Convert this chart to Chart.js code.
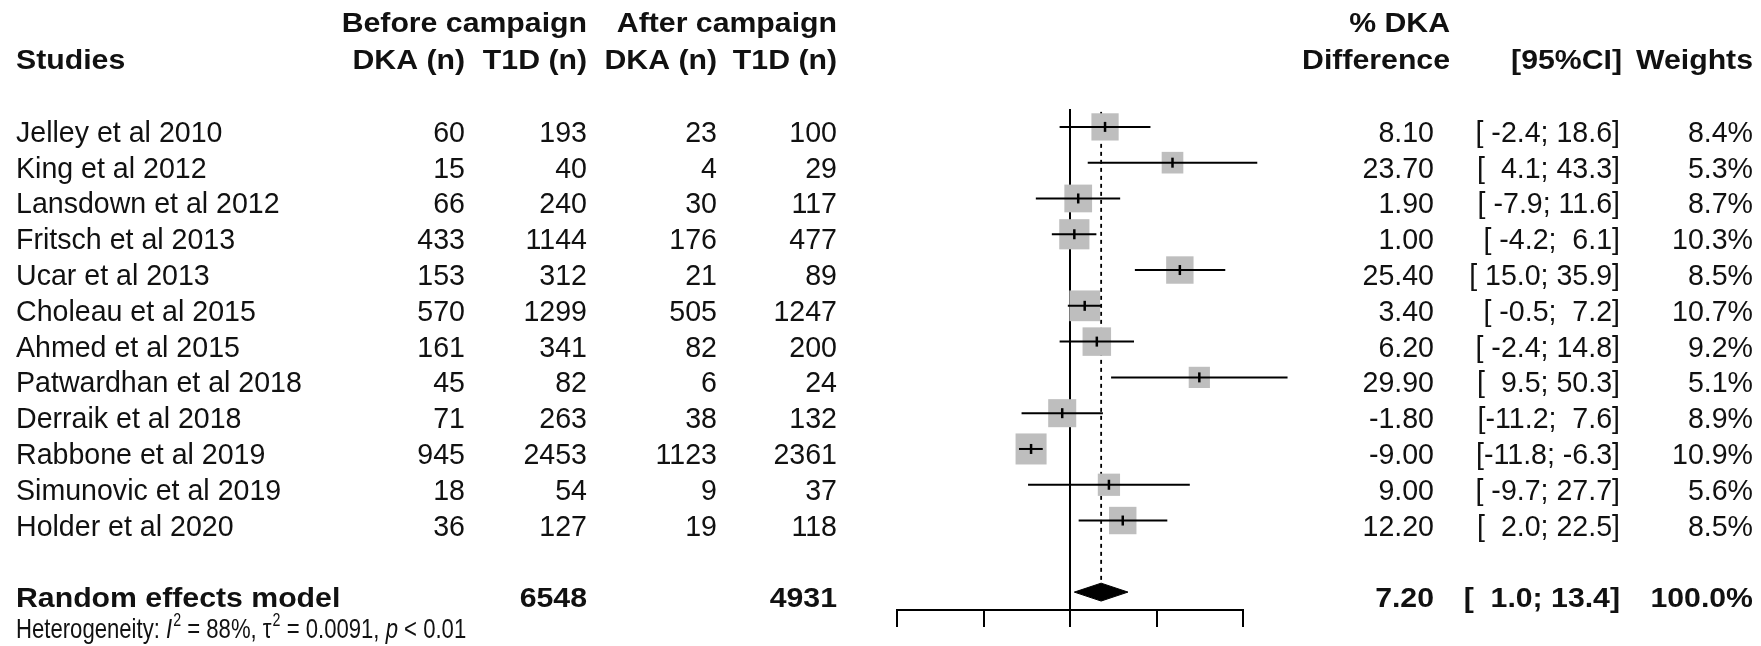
<!DOCTYPE html>
<html>
<head>
<meta charset="utf-8">
<script src="https://cdn.jsdelivr.net/npm/chart.js@4.4.1/dist/chart.umd.min.js"></script>
<style>
  html, body { margin: 0; padding: 0; background: #ffffff; }
  #wrap { width: 1761px; height: 646px; position: relative; }
</style>
</head>
<body>
<div id="wrap"><canvas id="forest" width="1761" height="646"></canvas></div>
<script>
// ---- data ----
const studies = [
  "Jelley et al 2010", "King et al 2012", "Lansdown et al 2012", "Fritsch et al 2013",
  "Ucar et al 2013", "Choleau et al 2015", "Ahmed et al 2015", "Patwardhan et al 2018",
  "Derraik et al 2018", "Rabbone et al 2019", "Simunovic et al 2019", "Holder et al 2020"
];
const dkaBefore = [60, 15, 66, 433, 153, 570, 161, 45, 71, 945, 18, 36];
const t1dBefore = [193, 40, 240, 1144, 312, 1299, 341, 82, 263, 2453, 54, 127];
const dkaAfter  = [23, 4, 30, 176, 21, 505, 82, 6, 38, 1123, 9, 19];
const t1dAfter  = [100, 29, 117, 477, 89, 1247, 200, 24, 132, 2361, 37, 118];
const diffPct   = [8.10, 23.70, 1.90, 1.00, 25.40, 3.40, 6.20, 29.90, -1.80, -9.00, 9.00, 12.20];
const ciLower   = [-2.4, 4.1, -7.9, -4.2, 15.0, -0.5, -2.4, 9.5, -11.2, -11.8, -9.7, 2.0];
const ciUpper   = [18.6, 43.3, 11.6, 6.1, 35.9, 7.2, 14.8, 50.3, 7.6, -6.3, 27.7, 22.5];
const weights   = [8.4, 5.3, 8.7, 10.3, 8.5, 10.7, 9.2, 5.1, 8.9, 10.9, 5.6, 8.5];

const pooledLabel = "Random effects model";
const pooledEstimate = 7.20;
const pooledLower = 1.0;
const pooledUpper = 13.4;
const pooledWeight = 100.0;
const totalT1dBefore = 6548;
const totalT1dAfter = 4931;
const heterogeneity = { i2: "88%", tau2: "0.0091", p: "< 0.01" };

const axisTicks = [-40, -20, 0, 20, 40];

// ---- layout ----
const pooledRow = studies.length + 1;
const rows = studies.map((_, i) => i);
const FONT = "Liberation Sans, Arial, sans-serif";
const REG_SIZE = 29, REG_SX = 0.985;
const BOLD_SIZE = 28, BOLD_SX = 1.08;
const HET_SIZE = 28, HET_SX = 0.79;
const TEXT_COLOR = "#111111";

const col = {
  study: 16, dkaB: 465, t1dB: 587, dkaA: 717, t1dA: 837,
  diffHead: 1450, diff: 1434, ci: 1620, ciHead: 1622, w: 1753
};

function squareRadius(w) {
  const side = 9.4 * Math.sqrt(w);
  return side / Math.SQRT2;   // 'rect' point style draws a side of radius*sqrt(2)
}

function padNum(v, width) {
  let s = v.toFixed(1);
  while (s.length < width) s = " " + s;
  return s;
}
function ciText(lo, hi) {
  return "[" + padNum(lo, 5) + ";" + padNum(hi, 5) + "]";
}

function text(ctx, str, x, y, align, bold, opts) {
  opts = opts || {};
  const size = opts.size || (bold ? BOLD_SIZE : REG_SIZE);
  const sx = opts.sx || (bold ? BOLD_SX : REG_SX);
  ctx.save();
  ctx.font = (opts.italic ? "italic " : "") + (bold ? "bold " : "") + size + "px " + FONT;
  ctx.fillStyle = TEXT_COLOR;
  ctx.textBaseline = "alphabetic";
  ctx.textAlign = align;
  ctx.translate(x, y);
  ctx.scale(sx, 1);
  ctx.fillText(str, 0, 0);
  const w = ctx.measureText(str).width * sx;
  ctx.restore();
  return w;
}

// table text around the plot
const tablePlugin = {
  id: "forestTable",
  afterDraw(chart) {
    const ctx = chart.ctx;
    const ys = chart.scales.y;
    const base = (r) => ys.getPixelForValue(r) + 15;
    const h1 = 32, h2 = 69;

    // headers
    text(ctx, "Before campaign", col.t1dB, h1, "right", true);
    text(ctx, "After campaign", col.t1dA, h1, "right", true);
    text(ctx, "Studies", col.study, h2, "left", true);
    text(ctx, "DKA (n)", col.dkaB, h2, "right", true);
    text(ctx, "T1D (n)", col.t1dB, h2, "right", true);
    text(ctx, "DKA (n)", col.dkaA, h2, "right", true);
    text(ctx, "T1D (n)", col.t1dA, h2, "right", true);
    text(ctx, "% DKA", col.diffHead, h1, "right", true);
    text(ctx, "Difference", col.diffHead, h2, "right", true);
    text(ctx, "[95%CI]", col.ciHead, h2, "right", true);
    text(ctx, "Weights", col.w, h2, "right", true);

    // study rows
    studies.forEach((name, i) => {
      const y = base(i);
      text(ctx, name, col.study, y, "left", false);
      text(ctx, String(dkaBefore[i]), col.dkaB, y, "right", false);
      text(ctx, String(t1dBefore[i]), col.t1dB, y, "right", false);
      text(ctx, String(dkaAfter[i]), col.dkaA, y, "right", false);
      text(ctx, String(t1dAfter[i]), col.t1dA, y, "right", false);
      text(ctx, diffPct[i].toFixed(2), col.diff, y, "right", false);
      text(ctx, ciText(ciLower[i], ciUpper[i]), col.ci, y, "right", false);
      text(ctx, weights[i].toFixed(1) + "%", col.w, y, "right", false);
    });

    // pooled row
    const yp = base(pooledRow);
    text(ctx, pooledLabel, col.study, yp, "left", true);
    text(ctx, String(totalT1dBefore), col.t1dB, yp, "right", true);
    text(ctx, String(totalT1dAfter), col.t1dA, yp, "right", true);
    text(ctx, pooledEstimate.toFixed(2), col.diff, yp, "right", true);
    text(ctx, ciText(pooledLower, pooledUpper), col.ci, yp, "right", true);
    text(ctx, pooledWeight.toFixed(1) + "%", col.w, yp, "right", true);

    // heterogeneity line
    const yh = 638;
    let x = col.study;
    const het = { size: HET_SIZE, sx: HET_SX };
    const hetIt = { size: HET_SIZE, sx: HET_SX, italic: true };
    const sup = { size: 18, sx: HET_SX };
    x += text(ctx, "Heterogeneity: ", x, yh, "left", false, het);
    x += text(ctx, "I", x, yh, "left", false, hetIt);
    x += text(ctx, "2", x + 1, yh - 12, "left", false, sup) + 1;
    x += text(ctx, " = " + heterogeneity.i2 + ", \u03c4", x, yh, "left", false, het);
    x += text(ctx, "2", x + 1, yh - 12, "left", false, sup) + 1;
    x += text(ctx, " = " + heterogeneity.tau2 + ", ", x, yh, "left", false, het);
    x += text(ctx, "p", x, yh, "left", false, hetIt);
    text(ctx, " " + heterogeneity.p, x, yh, "left", false, het);
  }
};

const pts = diffPct.map((d, i) => ({ x: d, y: rows[i] }));

const ciDatasets = studies.map((_, i) => ({
  data: [{ x: ciLower[i], y: rows[i] }, { x: ciUpper[i], y: rows[i] }],
  showLine: true,
  borderColor: "#000000",
  borderWidth: 2,
  pointRadius: 0,
  clip: false,
  order: 2
}));

const datasets = [
  // line of no effect
  {
    data: [{ x: 0, y: -0.5 }, { x: 0, y: 13.5 }],
    showLine: true, borderColor: "#000000", borderWidth: 2,
    pointRadius: 0, order: 6
  },
  // pooled estimate reference line
  {
    data: [{ x: pooledEstimate, y: -0.42 }, { x: pooledEstimate, y: pooledRow - 0.26 }],
    showLine: true, borderColor: "#000000", borderWidth: 1.8, borderDash: [4, 4],
    pointRadius: 0, order: 5
  },
  // weighted squares
  {
    data: pts,
    pointStyle: "rect",
    pointRadius: weights.map(squareRadius),
    pointHoverRadius: weights.map(squareRadius),
    backgroundColor: "#bebebe",
    borderWidth: 0,
    clip: false,
    order: 3
  },
  ...ciDatasets,
  // point estimate ticks
  {
    data: pts,
    pointStyle: "line",
    rotation: 90,
    pointRadius: 5,
    pointHoverRadius: 5,
    borderColor: "#000000",
    borderWidth: 2.5,
    order: 1
  },
  // pooled diamond
  {
    data: [
      { x: pooledLower, y: pooledRow },
      { x: pooledEstimate, y: pooledRow - 0.25 },
      { x: pooledUpper, y: pooledRow },
      { x: pooledEstimate, y: pooledRow + 0.25 },
      { x: pooledLower, y: pooledRow }
    ],
    showLine: true,
    borderColor: "#000000",
    borderWidth: 1,
    backgroundColor: "#000000",
    fill: "shape",
    pointRadius: 0,
    order: 1
  }
];

new Chart(document.getElementById("forest"), {
  type: "scatter",
  data: { datasets },
  options: {
    responsive: false,
    animation: false,
    events: [],
    layout: { padding: { left: 897, right: 518, top: 109, bottom: 19 } },
    plugins: { legend: { display: false }, tooltip: { enabled: false } },
    scales: {
      x: {
        type: "linear",
        min: axisTicks[0],
        max: axisTicks[axisTicks.length - 1],
        afterBuildTicks(scale) { scale.ticks = axisTicks.map(v => ({ value: v })); },
        ticks: { display: false },
        grid: { drawOnChartArea: false, drawTicks: true, tickLength: 17, color: "#000000", lineWidth: 2 },
        border: { display: true, color: "#000000", width: 2 }
      },
      y: {
        type: "linear",
        reverse: true,
        min: -0.5,
        max: 13.5,
        display: false
      }
    }
  },
  plugins: [tablePlugin]
});
</script>
</body>
</html>
